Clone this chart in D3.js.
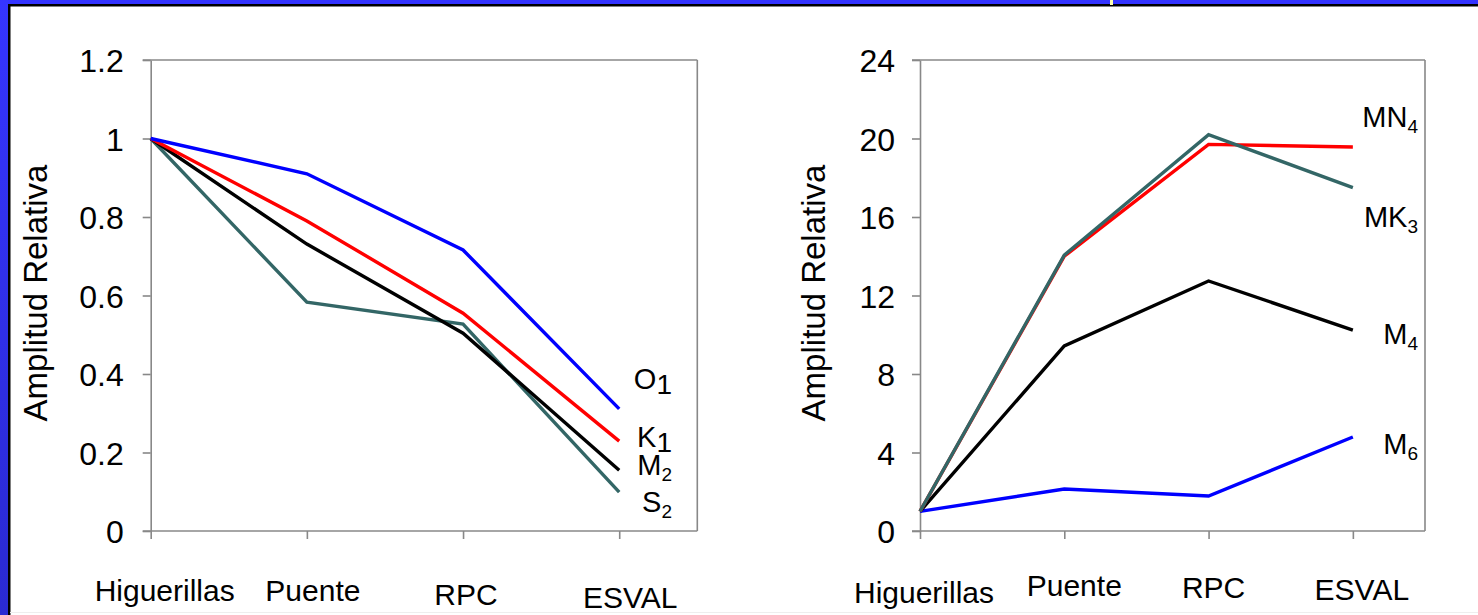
<!DOCTYPE html>
<html>
<head>
<meta charset="utf-8">
<script src="https://cdn.jsdelivr.net/npm/d3@7/dist/d3.min.js"></script>
<style>
  html, body { margin: 0; padding: 0; background: #fff; }
  svg { display: block; font-family: "Liberation Sans", Arial, sans-serif; }
</style>
</head>
<body>
<svg id="chart" width="1478" height="615"></svg>
<script>
// stations along the river
var sites = ['Higuerillas', 'Puente', 'RPC', 'ESVAL'];

// left panel: diurnal / semidiurnal constituents
var o1 = [1, 0.91, 0.716, 0.311];
var k1 = [1, 0.79, 0.555, 0.229];
var m2 = [1, 0.731, 0.504, 0.155];
var s2 = [1, 0.583, 0.527, 0.099];
var leftTicks = [0, 0.2, 0.4, 0.6, 0.8, 1, 1.2];

// right panel: shallow water constituents
var mn4 = [1, 14.0, 19.7, 19.57];
var mk3 = [1, 14.06, 20.2, 17.5];
var m4 = [1, 9.43, 12.74, 10.24];
var m6 = [1, 2.14, 1.78, 4.79];
var rightTicks = [0, 4, 8, 12, 16, 20, 24];

var svg = d3.select('#chart');

// slide frame
var defs = svg.append('defs');
var grad = defs.append('linearGradient')
  .attr('id', 'sideBlue').attr('x1', 0).attr('y1', 0).attr('x2', 0).attr('y2', 1);
grad.append('stop').attr('offset', '0%').attr('stop-color', '#3535ff');
grad.append('stop').attr('offset', '100%').attr('stop-color', '#2a2ad2');

svg.append('rect').attr('width', 1478).attr('height', 615).attr('fill', '#fff');
svg.append('rect').attr('x', 0).attr('y', 0).attr('width', 1478).attr('height', 4).attr('fill', '#3333ff');
svg.append('rect').attr('x', 0).attr('y', 0).attr('width', 8).attr('height', 615).attr('fill', 'url(#sideBlue)');
svg.append('rect').attr('x', 8).attr('y', 4).attr('width', 1470).attr('height', 2.5).attr('fill', '#000');
svg.append('rect').attr('x', 8).attr('y', 4).attr('width', 2.5).attr('height', 611).attr('fill', '#000');
svg.append('rect').attr('x', 1110).attr('y', 0).attr('width', 3).attr('height', 5).attr('fill', '#ffffb0');
svg.append('rect').attr('x', 10).attr('y', 612).attr('width', 1468).attr('height', 1).attr('fill', '#eeeeee');

function drawPanel(opts) {
  var g = svg.append('g');
  var x = d3.scaleLinear().domain([0, 3.5]).range([opts.left, opts.right]);
  var y = d3.scaleLinear().domain([0, opts.max]).range([531, 60]);

  // frame top / right
  g.append('line')
    .attr('x1', opts.left - 8).attr('x2', opts.right)
    .attr('y1', y(opts.max)).attr('y2', y(opts.max))
    .attr('stroke', '#888').attr('stroke-width', 1.6);
  g.append('line')
    .attr('x1', opts.right).attr('x2', opts.right)
    .attr('y1', y(opts.max)).attr('y2', y(0))
    .attr('stroke', '#888').attr('stroke-width', 1.6);

  var yAxis = g.append('g')
    .attr('transform', 'translate(' + opts.left + ',0)')
    .call(d3.axisLeft(y).tickValues(opts.ticks).tickSize(8).tickSizeOuter(0)
      .tickFormat(function(d) { return String(d); }));
  yAxis.selectAll('text')
    .attr('x', -opts.labelGap)
    .attr('dy', '0.36em')
    .attr('fill', '#000')
    .style('font-size', '32px')
    .style('font-family', '"Liberation Sans", Arial, sans-serif');

  var xAxis = g.append('g')
    .attr('transform', 'translate(0,' + y(0) + ')')
    .call(d3.axisBottom(x).tickValues([0, 1, 2, 3]).tickSize(8).tickSizeOuter(0)
      .tickFormat(''));
  xAxis.select('.domain').attr('d', 'M' + (opts.left - 8) + ',0H' + opts.right);

  g.selectAll('.domain, .tick line').attr('stroke', '#888').attr('stroke-width', 1.6);

  // category labels (slightly staggered like the original slide)
  g.selectAll('.site').data(sites).enter().append('text')
    .attr('class', 'site')
    .attr('x', function(d, i) { return x(i) + opts.siteDx[i]; })
    .attr('y', function(d, i) { return opts.siteY[i]; })
    .attr('text-anchor', 'middle')
    .style('font-size', '30px')
    .text(function(d) { return d; });

  // axis title
  g.append('text')
    .attr('transform', 'translate(' + opts.titleX + ',293) rotate(-90)')
    .attr('text-anchor', 'middle')
    .style('font-size', '33px')
    .text('Amplitud Relativa');

  var line = d3.line()
    .x(function(d, i) { return x(i); })
    .y(function(d) { return y(d); });

  opts.series.forEach(function(s) {
    g.append('path')
      .datum(s.values)
      .attr('d', line)
      .attr('fill', 'none')
      .attr('stroke', s.color)
      .attr('stroke-width', 3.4);
  });

  opts.series.forEach(function(s) {
    var t = g.append('text')
      .attr('x', opts.nameX)
      .attr('y', s.labelY)
      .attr('text-anchor', 'end')
      .style('font-size', '29px');
    t.append('tspan').text(s.name);
    t.append('tspan')
      .attr('dy', s.bigSub ? 5 : 6)
      .style('font-size', s.bigSub ? '28px' : '19px')
      .text(s.sub);
  });
}

drawPanel({
  left: 150.7, right: 697.3, max: 1.2, ticks: leftTicks, labelGap: 27,
  titleX: 47, nameX: 672,
  siteDx: [14, 6, 3, 11], siteY: [601, 601, 605, 608],
  series: [
    { values: s2, color: '#336666', name: 'S', sub: '2', labelY: 512 },
    { values: m2, color: '#000000', name: 'M', sub: '2', labelY: 475 },
    { values: k1, color: '#ff0000', name: 'K', sub: '1', labelY: 447, bigSub: true },
    { values: o1, color: '#0000ff', name: 'O', sub: '1', labelY: 389, bigSub: true }
  ]
});

drawPanel({
  left: 920, right: 1425, max: 24, ticks: rightTicks, labelGap: 25,
  titleX: 825, nameX: 1418,
  siteDx: [4, 10, 5, 9], siteY: [603, 596, 598, 600],
  series: [
    { values: m6, color: '#0000ff', name: 'M', sub: '6', labelY: 454 },
    { values: m4, color: '#000000', name: 'M', sub: '4', labelY: 344 },
    { values: mn4, color: '#ff0000', name: 'MN', sub: '4', labelY: 127 },
    { values: mk3, color: '#336666', name: 'MK', sub: '3', labelY: 227 }
  ]
});
</script>
</body>
</html>
